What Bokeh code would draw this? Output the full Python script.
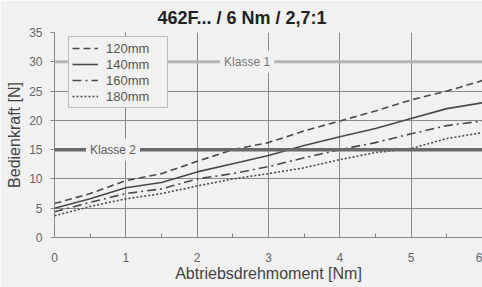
from bokeh.plotting import figure
from bokeh.models import Span, Label, Legend, LegendItem, Range1d, FixedTicker, ColumnDataSource
from bokeh.embed import file_html
from bokeh.resources import INLINE

# ---- data ----
torque = [0, 0.5, 1, 1.5, 2, 2.5, 3, 3.5, 4, 4.5, 5, 5.5, 6]
force_120 = [5.8, 7.5, 9.7, 10.9, 13.0, 15.0, 16.2, 18.2, 19.9, 21.6, 23.5, 25.0, 26.8]
force_140 = [5.0, 6.6, 8.5, 9.4, 11.2, 12.6, 14.0, 15.7, 17.2, 18.6, 20.3, 22.0, 23.0]
force_160 = [4.4, 6.0, 7.5, 8.3, 10.0, 10.9, 12.1, 13.6, 15.0, 16.2, 17.7, 19.1, 19.9]
force_180 = [3.7, 5.3, 6.6, 7.5, 8.8, 10.0, 10.9, 11.9, 13.3, 14.5, 15.2, 16.9, 17.9]
series_names = ["120mm", "140mm", "160mm", "180mm"]
class_limits = [30, 15]
class_names = ["Klasse 1", "Klasse 2"]
class_label_x = [2.7, 0.82]
x_ticks = [0, 1, 2, 3, 4, 5, 6]
y_ticks = [0, 5, 10, 15, 20, 25, 30, 35]

BG = "#f1f1f1"
FONT = "Liberation Sans"

p = figure(width=482, height=287, output_backend="svg", toolbar_location=None,
           x_range=Range1d(0, 6), y_range=Range1d(0, 35),
           title="462F... / 6 Nm / 2,7:1")
p.background_fill_color = BG
p.border_fill_color = BG
p.outline_line_color = None
p.min_border_left = 54
p.min_border_right = 0
p.min_border_top = 32
p.min_border_bottom = 50

p.title.align = "left"
p.title.text_font = FONT
p.title.text_font_size = "18px"
p.title.text_font_style = "bold"
p.title.text_color = "#222222"
p.title.offset = 103
p.title.standoff = 9

# axes
for ax in (p.xaxis[0], p.yaxis[0]):
    ax.axis_line_color = "#888888"
    ax.major_label_text_font = FONT
    ax.major_label_text_font_size = "12px"
    ax.major_label_text_color = "#666666"
    ax.axis_label_text_font = FONT
    ax.axis_label_text_font_size = "16px"
    ax.axis_label_text_font_style = "normal"
    ax.axis_label_text_color = "#444444"
    ax.major_tick_line_color = "#888888"

p.xaxis.ticker = FixedTicker(ticks=x_ticks, minor_ticks=[0.5, 1.5, 2.5, 3.5, 4.5, 5.5])
p.xaxis.major_tick_out = 0
p.xaxis.major_tick_in = 0
p.xaxis.minor_tick_in = 4
p.xaxis.minor_tick_out = 0
p.xaxis.minor_tick_line_color = "#888888"
p.xaxis.major_label_standoff = 15
p.xaxis.axis_label = "Abtriebsdrehmoment [Nm]"
p.xaxis.axis_label_standoff = 0

p.yaxis.ticker = FixedTicker(ticks=y_ticks)
p.yaxis.major_tick_out = 4
p.yaxis.major_tick_in = 0
p.yaxis.minor_tick_line_color = None
p.yaxis.major_label_standoff = 8
p.yaxis.axis_label = "Bedienkraft [N]"
p.yaxis.axis_label_standoff = 3

p.xgrid.ticker = FixedTicker(ticks=x_ticks)
p.ygrid.ticker = FixedTicker(ticks=y_ticks)
p.xgrid.grid_line_color = "#8a8a8a"
p.ygrid.grid_line_color = "#8a8a8a"
p.xgrid.grid_line_width = 1
p.ygrid.grid_line_width = 1

# class lines
class_colors = ["#b4b4b4", "#6a6a6a"]
class_text_colors = ["#777777", "#5e5e5e"]
class_widths = [3, 3.5]
for lim, name, lx, c, tc, w in zip(class_limits, class_names, class_label_x, class_colors, class_text_colors, class_widths):
    p.add_layout(Span(location=lim, dimension="width", line_color=c, line_width=w))
    p.add_layout(Label(x=lx, y=lim, text=name, text_align="center", text_baseline="middle",
                       text_font=FONT, text_font_size="12px", text_color=tc,
                       background_fill_color=BG, padding=4))

# series
dashes = ["7 4", "solid", "9 4 2 4", "2 2"]
ys = [force_120, force_140, force_160, force_180]
items = []
for name, y, d in zip(series_names, ys, dashes):
    src = ColumnDataSource(dict(x=torque, y=y))
    r = p.line("x", "y", source=src, line_color="#4a4a4a", line_width=1.6, line_dash=d)
    items.append(LegendItem(label=name, renderers=[r]))

legend = Legend(items=items, location=(14, 129))
legend.label_text_font = FONT
legend.label_text_font_size = "13px"
legend.label_text_color = "#555555"
legend.border_line_color = "#8a8a8a"
legend.border_line_width = 1
legend.background_fill_color = BG
legend.background_fill_alpha = 1
legend.glyph_width = 26
legend.glyph_height = 16
legend.label_height = 16
legend.label_width = 58
legend.spacing = 0
legend.padding = 3
legend.margin = 0
legend.label_standoff = 8
p.add_layout(legend, "center")

open("out.html", "w").write(file_html(p, INLINE))
